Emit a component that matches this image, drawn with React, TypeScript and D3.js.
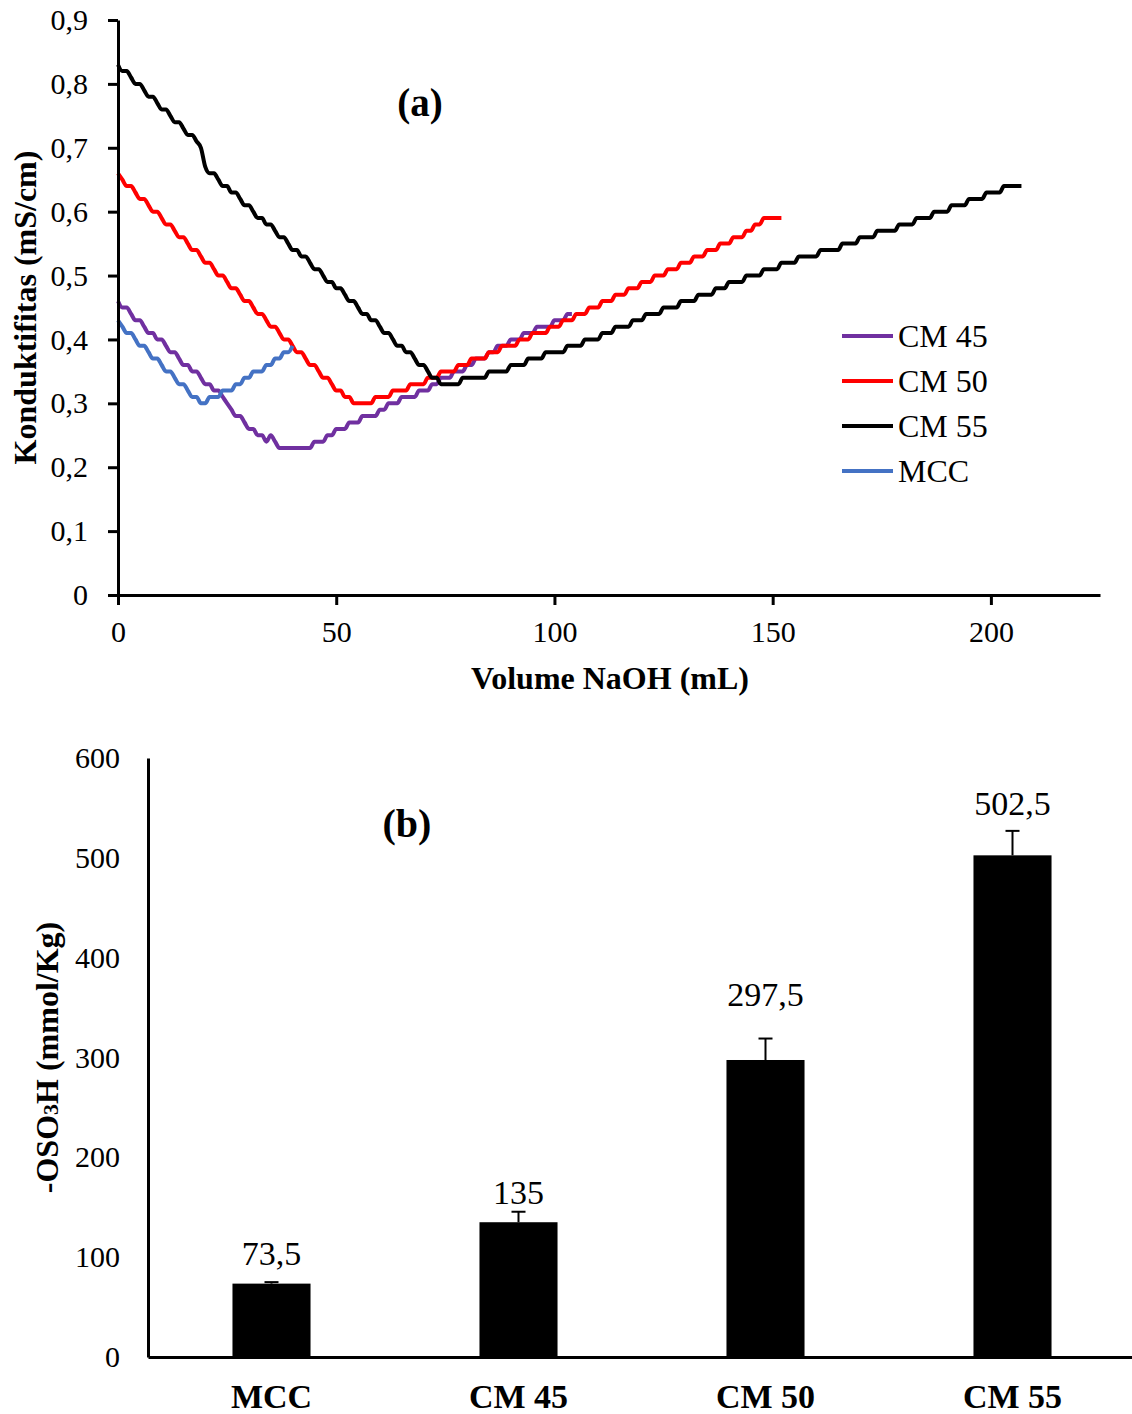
import React, { useRef, useEffect } from 'react'
import * as d3 from 'd3'

// conductometric titration, one reading per mL of NaOH (index = volume in mL)
const cm45 = [
  .46, .45, .45, .44, .43, .43, .42, .41, .41, .40,
  .40, .39, .38, .38, .37, .36, .36, .35, .35, .34,
  .33, .33, .32, .32, .31, .30, .29, .28, .28, .27,
  .26, .26, .25, .25, .24, .25, .24, .23, .23, .23,
  .23, .23, .23, .23, .23, .24, .24, .24, .25, .25,
  .26, .26, .26, .27, .27, .27, .28, .28, .28, .28,
  .29, .29, .30, .30, .30, .31, .31, .31, .31, .32,
  .32, .32, .33, .33, .34, .34, .34, .35, .35, .35,
  .36, .36, .37, .37, .37, .38, .38, .39, .39, .39,
  .40, .40, .40, .41, .41, .41, .42, .42, .42, .42,
  .43, .43, .43, .44, .44
]
const cm50 = [
  .66, .65, .64, .64, .63, .62, .62, .61, .60, .60,
  .59, .58, .58, .57, .56, .56, .55, .54, .54, .53,
  .52, .52, .51, .50, .50, .49, .48, .48, .47, .46,
  .46, .45, .44, .44, .43, .42, .42, .41, .40, .40,
  .39, .38, .38, .37, .36, .36, .35, .34, .34, .33,
  .32, .32, .31, .31, .30, .30, .30, .30, .30, .31,
  .31, .31, .31, .32, .32, .32, .32, .33, .33, .33,
  .33, .34, .34, .34, .35, .35, .35, .35, .36, .36,
  .36, .37, .37, .37, .37, .38, .38, .38, .39, .39,
  .39, .39, .40, .40, .40, .41, .41, .41, .41, .42,
  .42, .42, .43, .43, .43, .44, .44, .44, .45, .45,
  .45, .46, .46, .46, .47, .47, .47, .48, .48, .48,
  .49, .49, .49, .50, .50, .50, .51, .51, .51, .52,
  .52, .52, .53, .53, .53, .54, .54, .54, .55, .55,
  .55, .56, .56, .56, .57, .57, .58, .58, .59, .59,
  .59, .59, .59
]
const cm55 = [
  .83, .82, .82, .81, .80, .80, .79, .78, .78, .77,
  .76, .76, .75, .74, .74, .73, .72, .72, .71, .70,
  .67, .66, .66, .65, .64, .64, .63, .63, .62, .61,
  .61, .60, .59, .59, .58, .58, .57, .56, .56, .55,
  .54, .54, .53, .53, .52, .51, .51, .50, .49, .49,
  .48, .48, .47, .46, .46, .45, .44, .44, .43, .43,
  .42, .41, .41, .40, .39, .39, .38, .38, .37, .36,
  .36, .35, .34, .34, .33, .33, .33, .33, .33, .34,
  .34, .34, .34, .34, .34, .35, .35, .35, .35, .35,
  .36, .36, .36, .36, .37, .37, .37, .37, .38, .38,
  .38, .38, .38, .39, .39, .39, .39, .40, .40, .40,
  .40, .41, .41, .41, .42, .42, .42, .42, .43, .43,
  .43, .44, .44, .44, .44, .45, .45, .45, .45, .46,
  .46, .46, .46, .47, .47, .47, .47, .48, .48, .48,
  .49, .49, .49, .49, .50, .50, .50, .50, .51, .51,
  .51, .51, .52, .52, .52, .52, .53, .53, .53, .53,
  .53, .54, .54, .54, .54, .54, .55, .55, .55, .55,
  .56, .56, .56, .56, .57, .57, .57, .57, .57, .58,
  .58, .58, .58, .59, .59, .59, .59, .60, .60, .60,
  .60, .61, .61, .61, .61, .62, .62, .62, .62, .63,
  .63, .63, .63, .64, .64, .64, .64, .64
]
const mcc = [
  .43, .42, .41, .41, .40, .39, .39, .38, .37, .37,
  .36, .35, .35, .34, .33, .33, .32, .31, .31, .30,
  .30, .31, .31, .31, .32, .32, .32, .33, .33, .34,
  .34, .35, .35, .35, .36, .36, .37, .37, .38, .38,
  .39
]

const seriesNames = ['CM 45', 'CM 50', 'CM 55', 'MCC']
const seriesColors = ['#7030A0', '#FF0000', '#000000', '#4472C4']
const condTicks = [0, 0.1, 0.2, 0.3, 0.4, 0.5, 0.6, 0.7, 0.8, 0.9]
const volTicks = [0, 50, 100, 150, 200]

// sulfate half ester content
const barCats = ['MCC', 'CM 45', 'CM 50', 'CM 55']
const barValues = [73.5, 135, 297.5, 502.5]
const barErrors = [1.5, 10.5, 21.5, 24.5]
const barTicks = [0, 100, 200, 300, 400, 500, 600]
// how far each value label sits above its bar (px), labels were nudged by hand
const labelLift = [19, 18, 54, 40]

const FONT = '"Liberation Serif", "Times New Roman", serif'
const loc = d3.formatLocale({ decimal: ',', thousands: '.', grouping: [3], currency: ['', ''] })

export default function App() {
  const svgRef = useRef(null)

  useEffect(() => {
    document.body.style.margin = '0'
    const svg = d3.select(svgRef.current)
    svg.selectAll('*').remove()

    // ---------- (a) titration curves ----------
    const x = d3.scaleLinear().domain([0, 225]).range([118, 1100])
    const y = d3.scaleLinear().domain([0, 0.9]).range([595, 20])

    const gA = svg.append('g')

    const line = d3.line()
      .x((d, i) => x(i))
      .y(d => y(d))
      .curve(d3.curveMonotoneX)

    const allSeries = [cm45, cm50, cm55, mcc]
    gA.selectAll('.curve')
      .data(allSeries)
      .enter().append('path')
      .attr('class', 'curve')
      .attr('fill', 'none')
      .attr('stroke', (d, i) => seriesColors[i])
      .attr('stroke-width', 4)
      .attr('stroke-linejoin', 'round')
      .attr('d', line)

    const yAxisA = gA.append('g')
      .attr('transform', `translate(${x(0)},0)`)
      .call(d3.axisLeft(y).tickValues(condTicks).tickSize(10).tickSizeOuter(0).tickPadding(20)
        .tickFormat(d => d === 0 ? '0' : loc.format('.1f')(d)))
    const xAxisA = gA.append('g')
      .attr('transform', `translate(0,${y(0)})`)
      .call(d3.axisBottom(x).tickValues(volTicks).tickSize(10).tickSizeOuter(0).tickPadding(16))

    ;[yAxisA, xAxisA].forEach(ax => {
      ax.select('.domain').attr('stroke', '#000').attr('stroke-width', 3)
      ax.selectAll('.tick line').attr('stroke', '#000').attr('stroke-width', 3)
      ax.selectAll('text').attr('font-family', FONT).attr('font-size', 30).attr('fill', '#000')
    })

    gA.append('text')
      .attr('transform', `translate(36,${(y(0) + y(0.9)) / 2}) rotate(-90)`)
      .attr('text-anchor', 'middle')
      .attr('font-family', FONT).attr('font-weight', 'bold').attr('font-size', 32)
      .text('Konduktifitas (mS/cm)')

    gA.append('text')
      .attr('x', 610).attr('y', 689)
      .attr('text-anchor', 'middle')
      .attr('font-family', FONT).attr('font-weight', 'bold').attr('font-size', 32)
      .text('Volume NaOH (mL)')

    gA.append('text')
      .attr('x', 420).attr('y', 116)
      .attr('text-anchor', 'middle')
      .attr('font-family', FONT).attr('font-weight', 'bold').attr('font-size', 39)
      .text('(a)')

    const legend = gA.append('g').attr('transform', 'translate(842,336)')
    seriesNames.forEach((name, i) => {
      const row = legend.append('g').attr('transform', `translate(0,${i * 45})`)
      row.append('line')
        .attr('x1', 0).attr('x2', 51).attr('y1', 0).attr('y2', 0)
        .attr('stroke', seriesColors[i]).attr('stroke-width', 4)
      row.append('text')
        .attr('x', 56).attr('y', 0).attr('dy', '0.35em')
        .attr('font-family', FONT).attr('font-size', 32)
        .text(name)
    })

    // ---------- (b) bar chart ----------
    const bx = d3.scaleBand().domain(barCats).range([148, 1136]).paddingInner(0.684).paddingOuter(0.342)
    const by = d3.scaleLinear().domain([0, 600]).range([1357, 758])

    const gB = svg.append('g')

    gB.selectAll('.bar')
      .data(barValues)
      .enter().append('rect')
      .attr('class', 'bar')
      .attr('x', (d, i) => bx(barCats[i]))
      .attr('y', d => by(d))
      .attr('width', bx.bandwidth())
      .attr('height', d => by(0) - by(d))
      .attr('fill', '#000')

    const err = gB.selectAll('.err')
      .data(barValues)
      .enter().append('g')
      .attr('class', 'err')
      .attr('transform', (d, i) => `translate(${bx(barCats[i]) + bx.bandwidth() / 2},0)`)
    err.append('line')
      .attr('y1', d => by(d)).attr('y2', (d, i) => by(d + barErrors[i]))
      .attr('stroke', '#000').attr('stroke-width', 2)
    err.append('line')
      .attr('x1', -7).attr('x2', 7)
      .attr('y1', (d, i) => by(d + barErrors[i])).attr('y2', (d, i) => by(d + barErrors[i]))
      .attr('stroke', '#000').attr('stroke-width', 2)
    err.append('text')
      .attr('y', (d, i) => by(d) - labelLift[i])
      .attr('text-anchor', 'middle')
      .attr('font-family', FONT).attr('font-size', 34)
      .text(d => loc.format('~g')(d))

    const yAxisB = gB.append('g')
      .attr('transform', `translate(148,0)`)
      .call(d3.axisLeft(by).tickValues(barTicks).tickSize(0).tickPadding(28))
    const xAxisB = gB.append('g')
      .attr('transform', `translate(0,${by(0)})`)
      .call(d3.axisBottom(bx).tickSize(0).tickPadding(27))

    ;[yAxisB, xAxisB].forEach(ax => {
      ax.select('.domain').attr('stroke', '#000').attr('stroke-width', 3)
      ax.selectAll('text').attr('font-family', FONT).attr('font-size', 30).attr('fill', '#000')
    })
    xAxisB.selectAll('text').attr('font-weight', 'bold').attr('font-size', 34)

    const yLab = gB.append('text')
      .attr('transform', `translate(58,${by(300)}) rotate(-90)`)
      .attr('text-anchor', 'middle')
      .attr('font-family', FONT).attr('font-weight', 'bold').attr('font-size', 32)
    yLab.append('tspan').text('-OSO')
    yLab.append('tspan').attr('font-size', 22).text('3')
    yLab.append('tspan').text('H (mmol/Kg)')

    gB.append('text')
      .attr('x', 407).attr('y', 837)
      .attr('text-anchor', 'middle')
      .attr('font-family', FONT).attr('font-weight', 'bold').attr('font-size', 40)
      .text('(b)')
  }, [])

  return (
    <svg ref={svgRef} width={1132} height={1414} style={{ display: 'block', background: '#fff' }}></svg>
  )
}
